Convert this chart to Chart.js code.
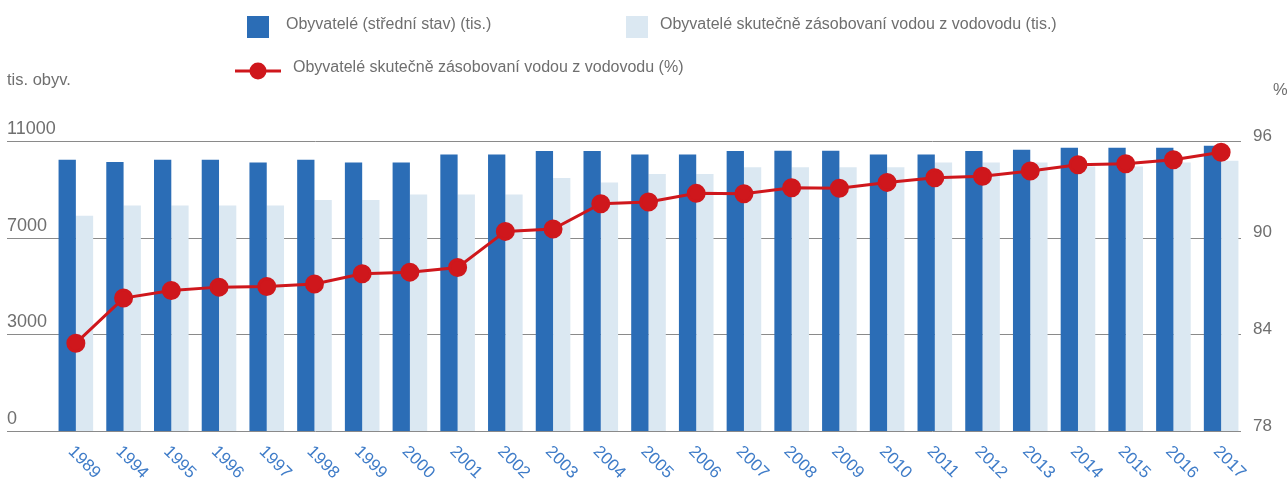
<!DOCTYPE html>
<html>
<head>
<meta charset="utf-8">
<script src="https://cdn.jsdelivr.net/npm/chart.js@4"></script>
<style>
html, body { margin: 0; padding: 0; background: #fff; }
#wrap { width: 1287px; height: 482px; position: relative; }
</style>
</head>
<body>
<div id="wrap"><canvas id="chart"></canvas></div>
<script>
// ==============================
// data
// ==============================
const years = ["1989", "1994", "1995", "1996", "1997", "1998", "1999", "2000", "2001", "2002",
    "2003", "2004", "2005", "2006", "2007", "2008", "2009", "2010", "2011", "2012",
    "2013", "2014", "2015", "2016", "2017"];

// Obyvatelé (střední stav) (tis.)
const population = [10290, 10200, 10290, 10290, 10180, 10290, 10180, 10180, 10490, 10490,
    10620, 10620, 10490, 10490, 10620, 10630, 10630, 10490, 10490, 10620,
    10670, 10745, 10745, 10745, 10820];

// Obyvatelé skutečně zásobovaní vodou z vodovodu (tis.)
const supplied = [8160, 8555, 8555, 8555, 8555, 8760, 8760, 8970, 8970, 8970,
    9595, 9430, 9750, 9750, 10000, 10000, 10000, 10000, 10180, 10180,
    10180, 10035, 10035, 10180, 10250];

// Obyvatelé skutečně zásobovaní vodou z vodovodu (%)
const suppliedPct = [83.45, 86.25, 86.72, 86.93, 86.97, 87.12, 87.76, 87.86, 88.15, 90.39,
    90.54, 92.11, 92.21, 92.75, 92.73, 93.10, 93.07, 93.43, 93.72, 93.81,
    94.14, 94.53, 94.59, 94.84, 95.30];

const leftTickLabels = ["0", "3000", "7000", "11000"];
const rightTickLabels = ["78", "84", "90", "96"];
const leftMax = 11000;

// ==============================
// styles
// ==============================
const BLUE = "#2b6db6";
const LIGHT = "#dbe8f2";
const RED = "#cf171c";
const GREY_TEXT = "#6f6f6f";
const GRID = "#8a8a8a";
const XLABEL = "#3f7cc8";
const FONT = "'Liberation Sans', Arial, sans-serif";

// ==============================
// own drawing of axes, grid and legend
// ==============================
const decorPlugin = {
    id: "decor",
    beforeDatasetsDraw(chart) {
        const ctx = chart.ctx;
        const y = chart.scales.y;
        ctx.save();
        ctx.strokeStyle = GRID;
        ctx.lineWidth = 1;
        leftTickLabels.forEach((_, i) => {
            const py = Math.round(y.getPixelForValue(i * leftMax / 3)) + 0.5;
            ctx.beginPath();
            ctx.moveTo(7, py);
            ctx.lineTo(chart.chartArea.right - 4, py);
            ctx.stroke();
        });
        ctx.restore();
    },
    afterDraw(chart) {
        const ctx = chart.ctx;
        const y = chart.scales.y;
        const y1 = chart.scales.y1;
        const x = chart.scales.x;
        ctx.save();

        // left ticks
        ctx.fillStyle = GREY_TEXT;
        ctx.font = "18px " + FONT;
        ctx.textAlign = "left";
        ctx.textBaseline = "middle";
        leftTickLabels.forEach((lab, i) => {
            ctx.fillText(lab, 7, y.getPixelForValue(i * leftMax / 3) - 12);
        });

        // right ticks
        ctx.font = "17px " + FONT;
        rightTickLabels.forEach(lab => {
            ctx.fillText(lab, 1253, y1.getPixelForValue(Number(lab)) - 5);
        });

        // axis titles
        ctx.font = "16.5px " + FONT;
        ctx.fillText("tis. obyv.", 7, 80);
        ctx.fillText("%", 1273, 90);

        // x labels, rotated down-right
        ctx.fillStyle = XLABEL;
        ctx.font = "17px " + FONT;
        ctx.textBaseline = "top";
        years.forEach((lab, i) => {
            const px = x.getPixelForValue(i);
            ctx.save();
            ctx.translate(px + 1, 443);
            ctx.rotate(Math.PI / 4);
            ctx.fillText(lab, 0, 0);
            ctx.restore();
        });

        // legend
        const ds = chart.data.datasets;
        ctx.font = "16px " + FONT;
        ctx.textBaseline = "middle";

        ctx.fillStyle = ds[0].backgroundColor;
        ctx.fillRect(247, 16, 22, 22);
        ctx.fillStyle = GREY_TEXT;
        ctx.fillText(ds[0].label, 286, 25);

        ctx.fillStyle = ds[1].backgroundColor;
        ctx.fillRect(626, 16, 22, 22);
        ctx.fillStyle = GREY_TEXT;
        ctx.fillText(ds[1].label, 660, 25);

        ctx.strokeStyle = ds[2].borderColor;
        ctx.lineWidth = 3;
        ctx.beginPath();
        ctx.moveTo(235, 71);
        ctx.lineTo(281, 71);
        ctx.stroke();
        ctx.fillStyle = ds[2].pointBackgroundColor;
        ctx.beginPath();
        ctx.arc(258, 71, 8.5, 0, Math.PI * 2);
        ctx.fill();
        ctx.fillStyle = GREY_TEXT;
        ctx.fillText(ds[2].label, 293, 68);

        ctx.restore();
    }
};

// ==============================
// chart
// ==============================
new Chart(document.getElementById("chart"), {
    type: "bar",
    data: {
        labels: years,
        datasets: [
            {
                label: "Obyvatelé (střední stav) (tis.)",
                data: population,
                backgroundColor: BLUE,
                yAxisID: "y",
                order: 2,
                categoryPercentage: 0.725,
                barPercentage: 1.0
            },
            {
                label: "Obyvatelé skutečně zásobovaní vodou z vodovodu (tis.)",
                data: supplied,
                backgroundColor: LIGHT,
                yAxisID: "y",
                order: 2,
                categoryPercentage: 0.725,
                barPercentage: 1.0
            },
            {
                type: "line",
                label: "Obyvatelé skutečně zásobovaní vodou z vodovodu (%)",
                data: suppliedPct,
                borderColor: RED,
                backgroundColor: RED,
                pointBackgroundColor: RED,
                pointBorderColor: RED,
                borderWidth: 3,
                pointRadius: 8,
                tension: 0,
                yAxisID: "y1",
                order: 1
            }
        ]
    },
    options: {
        responsive: true,
        maintainAspectRatio: false,
        animation: false,
        layout: { padding: { left: 52, right: 42, top: 141, bottom: 51 } },
        plugins: {
            legend: { display: false },
            tooltip: { enabled: false }
        },
        scales: {
            x: { display: false, offset: true },
            y: { display: false, min: 0, max: leftMax },
            y1: { display: false, min: 78, max: 96, position: "right" }
        }
    },
    plugins: [decorPlugin]
});
</script>
</body>
</html>
